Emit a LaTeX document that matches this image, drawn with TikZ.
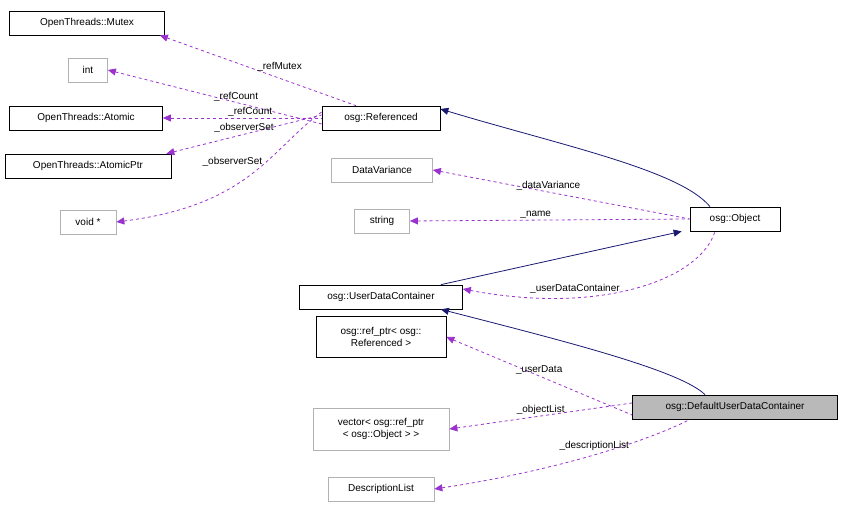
\documentclass[tikz,border=0pt]{standalone}
\usepackage{fontspec}
\setmainfont{Liberation Sans}
\usetikzlibrary{arrows.meta}
\definecolor{navy}{HTML}{191970}
\definecolor{orchid}{HTML}{9A32CD}
\tikzset{
  cls/.style={draw=black, fill=white, inner sep=3pt, minimum height=24pt, font=\fontsize{10}{12}\selectfont, align=center, line width=0.7pt},
  ext/.style={cls, draw=gray!60},
  inh/.style={navy, line width=0.8pt, {Triangle[length=8pt,width=7pt]}-},
  use/.style={orchid, dashed, line width=0.8pt, {Triangle[length=8pt,width=7pt]}-},
  lbl/.style={font=\fontsize{10}{12}\selectfont, black, inner sep=1pt}
}
\begin{document}
\begin{tikzpicture}[x=1pt,y=-1pt]
  \useasboundingbox (0,0) rectangle (844,508);
  \node[cls, minimum width=155pt] (mutex) at (87,23) {OpenThreads::Mutex};
  \node[ext, minimum width=39pt] (int) at (88,70) {int};
  \node[cls, minimum width=153pt] (atomic) at (86,118) {OpenThreads::Atomic};
  \node[cls, minimum width=166pt] (atomicptr) at (88,166) {OpenThreads::AtomicPtr};
  \node[ext, minimum width=56pt] (void) at (88,222) {void *};
  \node[cls, minimum width=118pt] (ref) at (381,118) {osg::Referenced};
  \node[ext, minimum width=101pt] (dv) at (382,170) {DataVariance};
  \node[ext, minimum width=55pt] (str) at (382,221) {string};
  \node[cls, minimum width=90pt] (obj) at (735,219) {osg::Object};
  \node[cls, minimum width=163pt] (udc) at (381,297) {osg::UserDataContainer};
  \node[cls, minimum width=130pt, minimum height=41pt] (refptr) at (381,337) {osg::ref\_ptr< osg::\\Referenced >};
  \node[ext, minimum width=136pt, minimum height=42pt] (vec) at (381,429) {vector< osg::ref\_ptr\\< osg::Object > >};
  \node[cls, fill=gray!55, minimum width=205pt] (dudc) at (735,407) {osg::DefaultUserDataContainer};
  \node[ext, minimum width=106pt] (desc) at (381,489) {DescriptionList};

  % inheritance
  \draw[inh] ([yshift=9]ref.east) .. controls (560,145) and (680,170) .. ([xshift=-25]obj.north);
  \draw[inh] ([xshift=-8]obj.south west) -- ([xshift=-22]udc.north east);
  \draw[inh] ([xshift=-22]udc.south east) .. controls (560,340) and (680,370) .. ([xshift=-30]dudc.north);

  % members
  \draw[use] ([xshift=-5]mutex.south east) -- node[lbl, pos=0.5, above right=-2pt] {\_refMutex} ([xshift=-25]ref.north);
  \draw[use] (int.east) -- node[lbl, pos=0.6, above] {\_refCount} ([yshift=-6]ref.west);
  \draw[use] (atomic.east) -- node[lbl, pos=0.55, above] {\_refCount} (ref.west);
  \draw[use] ([xshift=-5]atomicptr.north east) -- node[lbl, pos=0.5, above] {\_observerSet} ([yshift=3]ref.west);
  \draw[use] (void.east) .. controls (250,205) and (270,150) .. node[lbl, pos=0.6, left=2pt] {\_observerSet} ([yshift=6]ref.west);
  \draw[use] (dv.east) -- node[lbl, pos=0.45, above] {\_dataVariance} (obj.west);
  \draw[use] (str.east) -- node[lbl, pos=0.45, above] {\_name} (obj.west);
  \draw[use] ([yshift=8]udc.east) .. controls (600,315) and (700,280) .. node[lbl, pos=0.3, above=2pt] {\_userDataContainer} ([xshift=-20]obj.south);
  \draw[use] (refptr.east) -- node[lbl, pos=0.5, above] {\_userData} ([yshift=-8]dudc.west);
  \draw[use] (vec.east) -- node[lbl, pos=0.5, above] {\_objectList} ([yshift=4]dudc.west);
  \draw[use] (desc.east) .. controls (560,470) and (650,440) .. node[lbl, pos=0.5, above=3pt] {\_descriptionList} ([xshift=-45]dudc.south);
\end{tikzpicture}
\end{document}
